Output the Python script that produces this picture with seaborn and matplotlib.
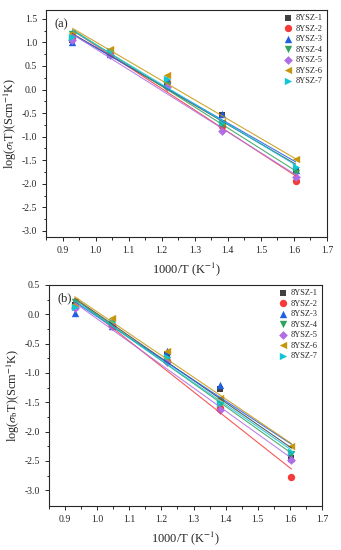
import numpy as np
import pandas as pd
import matplotlib
matplotlib.use('Agg')
import matplotlib.pyplot as plt
import seaborn as sns

sns.set_style('ticks')
plt.rcParams['font.family'] = ['Liberation Serif', 'DejaVu Serif']
plt.rcParams['mathtext.fontset'] = 'stix'
plt.rcParams['axes.unicode_minus'] = False

samples = ['8YSZ-1', '8YSZ-2', '8YSZ-3', '8YSZ-4', '8YSZ-5', '8YSZ-6', '8YSZ-7']
inv_T = [0.930, 1.045, 1.217, 1.383, 1.605]

# total conductivity, panel (a)
log_sigma_t = {
    '8YSZ-1': [1.05, 0.75, 0.12, -0.55, -1.72],
    '8YSZ-2': [1.10, 0.76, 0.15, -0.78, -1.95],
    '8YSZ-3': [1.00, 0.75, 0.20, -0.52, -1.70],
    '8YSZ-4': [1.18, 0.80, 0.10, -0.75, -1.77],
    '8YSZ-5': [1.05, 0.73, 0.05, -0.87, -1.85],
    '8YSZ-6': [1.20, 0.87, 0.30, -0.68, -1.47],
    '8YSZ-7': [1.12, 0.82, 0.22, -0.72, -1.65],
}
# bulk conductivity, panel (b)
log_sigma_b = {
    '8YSZ-1': [0.15, -0.18, -0.68, -1.27, -2.45],
    '8YSZ-2': [0.12, -0.18, -0.80, -1.60, -2.77],
    '8YSZ-3': [0.02, -0.20, -0.62, -1.20, -2.45],
    '8YSZ-4': [0.20, -0.15, -0.78, -1.55, -2.38],
    '8YSZ-5': [0.10, -0.20, -0.82, -1.63, -2.48],
    '8YSZ-6': [0.18, -0.07, -0.62, -1.42, -2.25],
    '8YSZ-7': [0.12, -0.13, -0.73, -1.52, -2.35],
}

colors = ['#404040', '#f53a3a', '#1e5fe6', '#2fa35c', '#b06ee6', '#c8960c', '#12c6d6']
markers = ['s', 'o', '^', 'v', 'D', '<', '>']
msizes = [22, 28, 28, 28, 20, 28, 28]

fig = plt.figure(figsize=(3.41, 5.5), dpi=100)
ax1 = fig.add_axes([0.135, 0.569, 0.824, 0.413])
ax2 = fig.add_axes([0.144, 0.080, 0.800, 0.402])


def draw(ax, data, ylim, yticks, ylabel, tag):
    for s, c, m, ms in zip(samples, colors, markers, msizes):
        df = pd.DataFrame({'x': inv_T, 'y': data[s]})
        sns.regplot(data=df, x='x', y='y', ax=ax, ci=None, truncate=True,
                    color=c, marker=m, label=s,
                    scatter_kws={'s': ms, 'alpha': 1, 'linewidths': 0},
                    line_kws={'lw': 0.8, 'alpha': 0.85})
    ax.set_xlim(0.85, 1.7)
    ax.set_ylim(*ylim)
    ax.set_xticks(np.arange(0.9, 1.71, 0.1))
    ax.set_xticklabels(['%.1f' % v for v in np.arange(0.9, 1.71, 0.1)])
    ax.set_yticks(yticks)
    ax.set_yticklabels(['%.1f' % v for v in yticks])
    ax.set_xticks(np.arange(0.85, 1.71, 0.05), minor=True)
    ax.set_yticks(np.arange(yticks[0], yticks[-1] + 0.01, 0.25), minor=True)
    ax.tick_params(which='both', direction='out', labelsize=7, width=0.7)
    ax.tick_params(which='major', length=3)
    ax.tick_params(which='minor', length=1.8)
    ax.set_xlabel('1000/T (K$^{-1}$)', fontsize=9)
    ax.set_ylabel(ylabel, fontsize=8.8, labelpad=2)
    for sp in ax.spines.values():
        sp.set_linewidth(0.8)
    ax.text(0.03, 0.965, tag, transform=ax.transAxes, fontsize=9, va='top')
    ax.legend(loc='upper right', frameon=False, fontsize=6, handletextpad=0.4,
              labelspacing=0.3, borderaxespad=0.2, markerscale=1.0,
              handlelength=1.0, borderpad=0.3)


draw(ax1, log_sigma_t, (-3.13, 1.69), np.arange(-3.0, 1.51, 0.5),
     r'log($\sigma_{\rm t}$T)(Scm$^{-1}$K)', '(a)')
draw(ax2, log_sigma_b, (-3.27, 0.5), np.arange(-3.0, 0.51, 0.5),
     r'log($\sigma_{\rm b}$T)(Scm$^{-1}$K)', '(b)')

fig.savefig('out.png', dpi=100)
